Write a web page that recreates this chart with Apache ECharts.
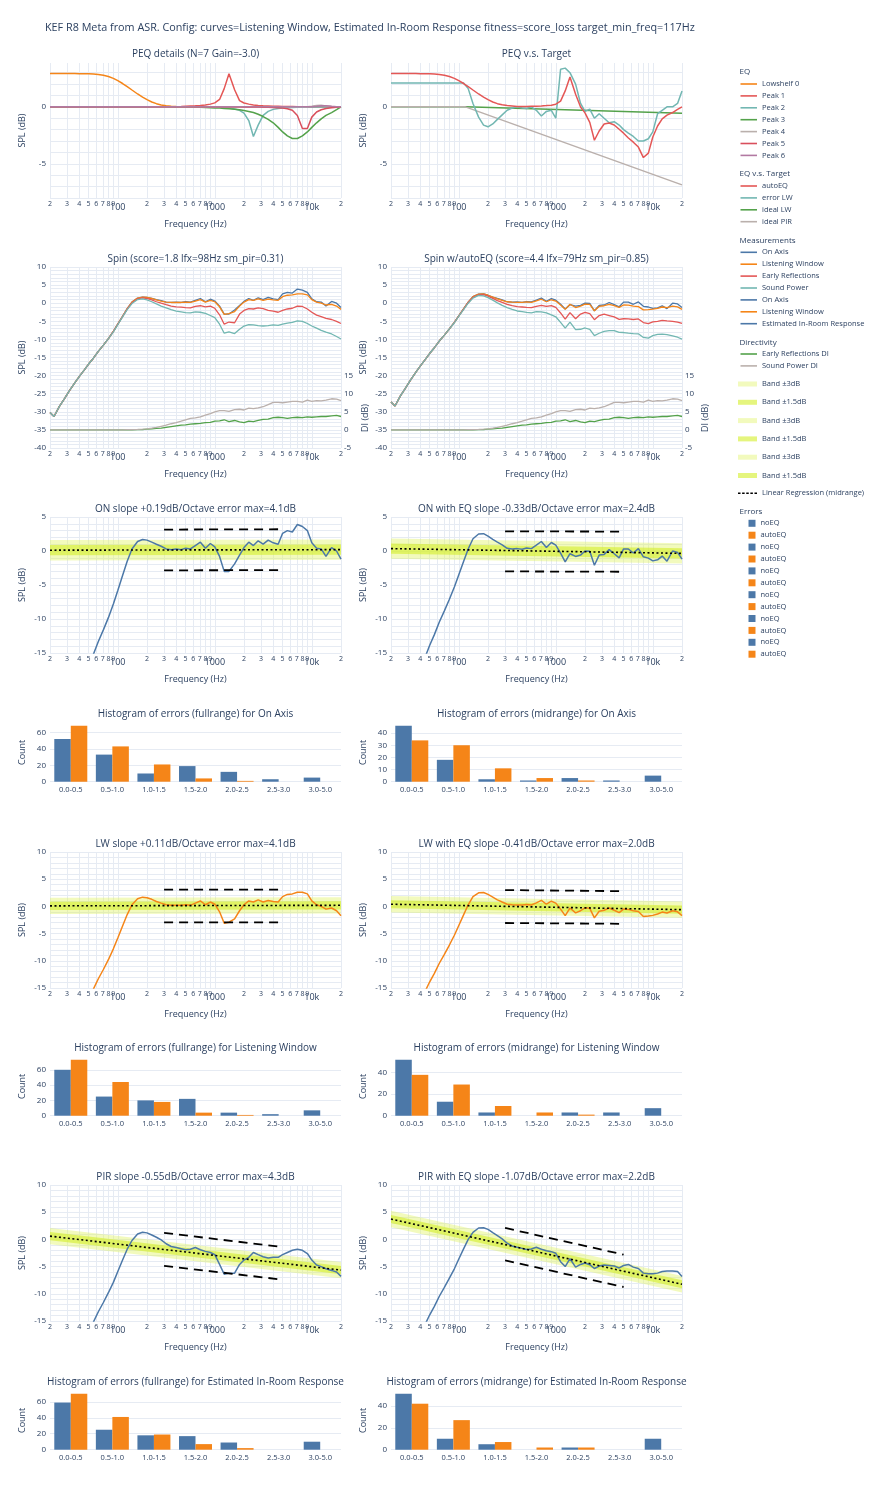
<!DOCTYPE html>
<html><head><meta charset="utf-8">
<script src="https://cdn.jsdelivr.net/npm/echarts@6/dist/echarts.min.js"></script>
<style>html,body{margin:0;padding:0;background:#fff}#c{width:875px;height:1500px}</style>
</head><body><div id="c"></div>
<script>
// ---------------- DATA ----------------
const FREQ = [20,22,25,28,32,36,40,45,50,56, 63,71,80,90,100,112,125,140,160,180, 200,224,250,280,315,355,400,450,500,560, 630,710,800,900,1000,1120,1250,1400,1600,1800, 2000,2240,2500,2800,3150,3550,4000,4500,5000,5600, 6300,7100,8000,9000,10000,11200,12500,14000,16000,18000, 20000];
const freqTicks = [20,30,40,50,60,70,80,90,100,200,300,400,500,600,700,800,900,1000,2000,3000,4000,5000,6000,7000,8000,9000,10000,20000];

const peqLowshelf0 = [2.92,2.92,2.92,2.92,2.92,2.92,2.91,2.9,2.9,2.88, 2.85,2.78,2.66,2.5,2.3,2.05,1.78,1.48,1.13,0.85, 0.63,0.43,0.28,0.17,0.1,0.06,0.03,0.02,0.01,0, 0,0,0,0,0,0,0,0,0,0, 0,0,0,0,0,0,0,0,0,0, 0,0,0,0,0,0,0,0,0,0, 0];
const peqPeak1 = [0,0,0,0,0,0,0,0,0,0, 0,0,0,0,0,0,0,0,0,0, 0,0,0,0.01,0.01,0.02,0.02,0.03,0.05,0.07, 0.09,0.12,0.17,0.24,0.35,0.65,1.6,2.9,1.5,0.55, 0.34,0.24,0.17,0.13,0.1,0.08,0.06,0.05,0.04,0.03, 0.03,0.02,0.02,0.02,0.01,0.01,0.01,0.01,0,0, 0];
const peqPeak2 = [0,0,0,0,0,0,0,0,0,0, 0,0,0,0,0,0,0,0,0,0, 0,0,0,0,0,0,0,0,0,0, 0,0,-0.01,-0.02,-0.03,-0.04,-0.06,-0.1,-0.18,-0.3, -0.55,-1.2,-2.6,-1.6,-0.75,-0.4,-0.22,-0.14,-0.1,-0.07, -0.05,-0.04,-0.03,-0.02,-0.02,-0.01,-0.01,-0.01,0,0, 0];
const peqPeak3 = [0,0,0,0,0,0,0,0,0,0, 0,0,0,0,0,0,0,0,0,0, 0,0,0,0,0,0,-0.01,-0.01,-0.02,-0.02, -0.03,-0.04,-0.05,-0.07,-0.09,-0.11,-0.14,-0.17,-0.21,-0.26, -0.32,-0.4,-0.5,-0.65,-0.85,-1.1,-1.4,-1.8,-2.2,-2.55, -2.78,-2.78,-2.55,-2.2,-1.8,-1.4,-1.05,-0.75,-0.5,-0.25, 0];
const peqPeak4 = [0,0,0,0,0,0,0,0,0,0, 0,0,0,0,0,0,0,0,0,0, 0,0,0,0,0,0,0,0,0,0, 0,0,0,0,0,0,0,0,0,0, 0,0,0,0,0,0,0,0,0,0, 0,0,0.01,0.02,0.05,0.12,0.15,0.08,0.03,0.01, 0];
const peqPeak5 = [0,0,0,0,0,0,0,0,0,0, 0,0,0,0,0,0,0,0,0,0, 0,0,0,0,0,0,0,0,0,0, 0,0,0,0,0,0,0,0,0,0, -0.01,-0.01,-0.02,-0.02,-0.03,-0.04,-0.05,-0.07,-0.1,-0.17, -0.3,-0.75,-1.9,-1.9,-0.9,-0.45,-0.25,-0.15,-0.08,-0.03, 0];
const peqPeak6 = [0,0,0,0,0,0,0,0,0,0, 0,0,0,0,0,0,0,0,0,0, 0,0,0,0,0,0,0,0,0,0, 0,0,0,0,0,0,0,0,0,0, 0,0,0,0,0,0,0,0,0,0, 0,0,0,0.01,0.02,0.05,0.1,0.1,0.05,0.02, 0];

const autoEQ = [2.92,2.92,2.92,2.92,2.92,2.92,2.91,2.9,2.9,2.88, 2.85,2.78,2.66,2.5,2.3,2.05,1.78,1.48,1.13,0.85, 0.63,0.43,0.28,0.18,0.11,0.08,0.04,0.04,0.04,0.06, 0.06,0.08,0.11,0.15,0.23,0.5,1.4,2.63,1.11,-0.01, -0.53,-1.36,-2.93,-2.12,-1.5,-1.42,-1.59,-1.97,-2.31,-2.73, -3.1,-3.53,-4.45,-4.06,-2.64,-1.68,-1.05,-0.72,-0.5,-0.22, 0];
const errorLW = [2.1,2.1,2.1,2.1,2.1,2.1,2.1,2.1,2.1,2.1, 2.1,2.1,2.1,2.1,2.1,2.1,1.6,0.3,-0.9,-1.6, -1.75,-1.5,-1.1,-0.7,-0.3,-0.1,0.0,-0.1,-0.15,0.0, -0.3,-0.8,-0.4,-0.3,-1.0,3.3,3.4,3.0,2.0,0.3, -0.4,-0.2,-1.0,-0.6,-1.0,-1.4,-1.3,-1.6,-2.0,-2.3, -2.6,-3.0,-3.0,-2.8,-2.2,-0.6,-0.3,0.0,0.0,0.3, 1.4];
const idealFreq = [20, 117, 20000];
const idealLW = [0, 0, -0.55];
const idealPIR = [0, 0, -6.85];

const onAxis = [-30.2,-31.3,-28.5,-26.5,-24,-22,-20.3,-18.5,-16.8,-15.2, -13.3,-11.6,-9.8,-7.8,-5.8,-3.6,-1.5,0.3,1.4,1.7, 1.6,1.3,1.0,0.7,0.3,0.2,0.3,0.2,0.4,0.3, 0.8,1.3,0.4,1.1,0.6,-0.8,-3.0,-3.0,-1.9,-0.6, 0.5,1.3,0.8,1.5,1.0,1.6,1.2,1.0,2.6,3.0, 2.8,3.9,3.6,3.0,1.2,0.4,0.3,-0.8,0.5,0.0, -1.2];
const listeningWindow = [-30.2,-31.3,-28.5,-26.5,-24,-22,-20.3,-18.5,-16.8,-15.2, -13.3,-11.6,-9.8,-7.8,-5.8,-3.6,-1.5,0.3,1.4,1.7, 1.6,1.3,0.9,0.6,0.3,0.2,0.2,0.2,0.3,0.2, 0.6,1.0,0.3,0.8,0.4,-1.0,-3.1,-2.9,-2.3,-0.8, 0.3,1.0,0.8,1.2,0.8,1.1,0.9,0.8,1.8,2.2, 2.3,2.6,2.6,2.3,1.0,0.3,0.0,-0.5,-0.3,-0.8, -1.7];
const earlyReflections = [-30.2,-31.3,-28.5,-26.5,-24,-22,-20.3,-18.5,-16.8,-15.2, -13.3,-11.6,-9.8,-7.8,-5.8,-3.7,-1.6,0.1,1.2,1.5, 1.3,0.9,0.4,0.0,-0.4,-0.8,-1.0,-1.1,-1.2,-1.3, -0.9,-0.7,-1.0,-0.8,-1.4,-3.2,-5.8,-5.2,-5.4,-3.0, -2.0,-1.5,-1.6,-1.3,-1.5,-2.0,-2.2,-2.5,-2.0,-1.6, -1.4,-0.8,-0.9,-1.6,-2.5,-3.3,-3.7,-4.2,-4.5,-5.0, -5.6];
const soundPower = [-30.2,-31.3,-28.5,-26.5,-24,-22,-20.3,-18.5,-16.8,-15.2, -13.3,-11.6,-9.8,-7.9,-5.9,-3.8,-1.8,-0.1,1.0,1.2, 0.9,0.4,-0.2,-0.8,-1.3,-1.8,-2.2,-2.4,-2.6,-2.7, -2.4,-2.5,-2.8,-3.4,-4.0,-5.8,-8.3,-7.9,-8.4,-7.2, -6.3,-5.9,-6.0,-6.2,-6.3,-6.2,-6.0,-6.1,-5.8,-5.5, -5.3,-4.9,-5.0,-5.6,-6.3,-6.9,-7.5,-8.0,-8.5,-9.2, -9.9];
const erDI = [0,0,0,0,0,0,0,0,0,0, 0,0,0,0,0,0,0,0,0.05,0.1, 0.2,0.3,0.4,0.5,0.7,0.9,1.1,1.3,1.4,1.6, 1.7,1.8,2.0,2.1,2.4,2.5,2.8,2.3,2.6,2.2, 2.0,2.4,2.3,2.6,2.9,3.0,3.4,3.5,3.4,3.2, 3.4,3.5,3.4,3.6,3.5,3.6,3.7,3.7,3.9,4.0, 3.7];
const spDI = [0,0,0,0,0,0,0,0,0,0, 0,0,0,0,0,0,0.05,0.1,0.15,0.2, 0.3,0.5,0.7,1.0,1.3,1.7,2.0,2.4,2.8,3.2, 3.3,3.6,4.1,4.5,5.0,5.3,5.3,5.1,5.6,5.7, 5.5,6.0,5.9,6.1,6.4,7.0,7.6,7.6,7.5,7.7, 7.9,7.9,7.7,8.2,7.9,8.1,8.0,8.2,8.6,8.5, 8.1];

const onAxisEq = [-27.3,-28.4,-25.6,-23.6,-21.1,-19.1,-17.4,-15.6,-13.9,-12.3, -10.45,-8.8,-7.1,-5.3,-3.5,-1.55,0.3,1.8,2.5,2.55, 2.2,1.7,1.3,0.9,0.4,0.3,0.35,0.25,0.45,0.35, 0.85,1.4,0.5,1.25,0.85,-0.3,-1.6,-0.4,-0.8,-0.6, 0.0,-0.05,-2.1,-0.6,-0.5,0.2,-0.4,-1.0,0.3,0.3, -0.3,0.35,-0.85,-1.05,-1.45,-1.3,-0.75,-1.5,0.0,-0.2, -1.2];
const listeningWindowEq = [-27.3,-28.4,-25.6,-23.6,-21.1,-19.1,-17.4,-15.6,-13.9,-12.3, -10.45,-8.8,-7.1,-5.3,-3.5,-1.55,0.3,1.8,2.5,2.55, 2.2,1.7,1.2,0.8,0.4,0.3,0.25,0.25,0.35,0.25, 0.65,1.1,0.4,0.95,0.6,-0.5,-1.7,-0.3,-1.2,-0.8, -0.25,-0.35,-2.1,-0.9,-0.7,-0.3,-0.7,-1.15,-0.5,-0.55, -0.8,-0.95,-1.85,-1.75,-1.65,-1.4,-1.05,-1.2,-0.8,-1.0, -1.7];
const earlyReflectionsEq = [-27.3,-28.4,-25.6,-23.6,-21.1,-19.1,-17.4,-15.6,-13.9,-12.3, -10.45,-8.8,-7.1,-5.3,-3.5,-1.65,0.2,1.6,2.3,2.35, 1.95,1.35,0.7,0.2,-0.3,-0.7,-0.95,-1.05,-1.15,-1.25, -0.85,-0.6,-0.9,-0.65,-1.15,-2.7,-4.4,-2.6,-4.3,-3.0, -2.55,-2.85,-4.55,-3.4,-3.0,-3.4,-3.8,-4.45,-4.3,-4.35, -4.5,-4.35,-5.35,-5.65,-5.15,-5.0,-4.75,-4.9,-5.0,-5.2, -5.6];
const soundPowerEq = [-27.3,-28.4,-25.6,-23.6,-21.1,-19.1,-17.4,-15.6,-13.9,-12.3, -10.45,-8.8,-7.1,-5.4,-3.6,-1.75,0.0,1.4,2.15,2.05, 1.55,0.85,0.1,-0.6,-1.2,-1.7,-2.15,-2.35,-2.55,-2.65, -2.35,-2.4,-2.7,-3.25,-3.75,-5.3,-6.9,-5.25,-7.3,-7.2, -6.85,-7.25,-8.95,-8.3,-7.8,-7.6,-7.6,-8.05,-8.1,-8.25, -8.4,-8.45,-9.45,-9.65,-8.95,-8.6,-8.55,-8.7,-9.0,-9.4, -9.9];

const pir = [-30.2,-31.3,-28.5,-26.5,-24,-22,-20.3,-18.5,-16.8,-15.2, -13.3,-11.6,-9.8,-7.9,-5.9,-3.8,-1.8,-0.2,1.0,1.3, 1.2,0.8,0.4,-0.1,-0.8,-1.3,-1.5,-1.7,-1.9,-1.8, -1.5,-1.9,-2.2,-2.4,-2.8,-4.6,-6.4,-6.2,-6.2,-4.6, -3.8,-3.3,-2.4,-2.8,-3.2,-3.4,-3.3,-3.3,-2.8,-2.4, -2.0,-1.8,-2.0,-2.6,-3.8,-4.7,-5.0,-5.4,-5.7,-6.0, -6.8];
const pirEq = [-27.3,-28.4,-25.6,-23.6,-21.1,-19.1,-17.4,-15.6,-13.9,-12.3, -10.45,-8.8,-7.1,-5.4,-3.6,-1.75,0.0,1.3,2.1,2.15, 1.85,1.25,0.7,0.1,-0.7,-1.2,-1.45,-1.65,-1.85,-1.75, -1.45,-1.8,-2.1,-2.25,-2.55,-4.1,-5.0,-3.55,-5.1,-4.6, -4.35,-4.65,-5.35,-4.9,-4.7,-4.8,-4.9,-5.25,-4.8,-4.6, -5.1,-5.35,-6.2,-6.3,-6.3,-6.2,-5.9,-5.8,-5.8,-5.9, -6.8];

// regression lines (endpoints at 20 Hz and 20 kHz) and midrange bounds (300 Hz - 5 kHz)
const regFreq = [20, 20000];
const regOn = [0.12, 0.2], regOnEq = [0.35, -0.35];
const regLw = [0.1, 0.2], regLwEq = [0.4, -0.6];
const regPir = [0.6, -5.65], regPirEq = [3.75, -8.25];
const boundFreq = [300, 5000];
const onUpper = [3.15, 3.2], onLower = [-2.85, -2.8];
const onEqUpper = [2.9, 2.85], onEqLower = [-3.0, -3.05];
const lwUpper = [3.1, 3.1], lwLower = [-2.95, -2.95];
const lwEqUpper = [3.0, 2.8], lwEqLower = [-3.05, -3.2];
const pirUpper = [1.2, -1.4], pirLower = [-4.85, -7.4];
const pirEqUpper = [2.1, -2.8], pirEqLower = [-3.85, -8.75];
const bandHalf = [1.5, 0.75];

// histograms
const histBins = ['0.0-0.5','0.5-1.0','1.0-1.5','1.5-2.0','2.0-2.5','2.5-3.0','3.0-5.0'];
const onFullNo = [52,33,10,19,12,3,5], onFullAuto = [68,43,21,4,1,0,0];
const onMidNo = [46,18,2,1,3,1,5], onMidAuto = [34,30,11,3,1,0,0];
const lwFullNo = [60,25,20,22,4,2,7], lwFullAuto = [73,44,18,4,1,0,0];
const lwMidNo = [52,13,3,0,3,3,7], lwMidAuto = [38,29,9,3,1,0,0];
const pirFullNo = [59,25,18,17,9,0,10], pirFullAuto = [70,41,19,7,2,0,0];
const pirMidNo = [51,10,5,0,2,0,10], pirMidAuto = [42,27,7,2,2,0,0];

// axis tick labels
const peqYTicks = [-5, 0];
const spinYTicks = [-40,-35,-30,-25,-20,-15,-10,-5,0,5,10];
const diTicks = [-5,0,5,10,15];
const slopeYTicks5 = [-15,-10,-5,0,5];
const slopeYTicks10 = [-15,-10,-5,0,5,10];
const histTicks20 = [0,20,40,60], histTicks10 = [0,10,20,30,40], histTicks20b = [0,20,40];

// ---------------- STYLE ----------------
const FONT = '"Open Sans", sans-serif';
const TXT = '#2a3f5f';
const GRIDC = '#e6ebf3';
const C = {blue:'#4C78A8', orange:'#F58518', red:'#E45756', teal:'#72B7B2', green:'#54A24B', gray:'#BAB0AC', purple:'#B279A2', pink:'#FF9DA6'};
const BAND_OUT = 'rgba(222,242,90,0.4)';
const BAND_IN = 'rgba(212,238,40,0.6)';

const COLX = [50, 391], W = 291;
const grids = [], xAxes = [], yAxes = [], series = [], titles = [], graphics = [];
const rng = (a, b) => { const r = []; for (let v = Math.ceil(a); v <= b; v++) r.push(v); return r; };
const zw = n => '\u200b'.repeat(n);

function addGrid(col, top, height) {
  grids.push({left: COLX[col], top, width: W, height, containLabel: false, outerBoundsMode: 'none'});
  return grids.length - 1;
}
function fmtFreq(v) {
  const r = Math.round(v);
  if (r === 100 || r === 1000) return '{b|' + r + '}';
  if (r === 10000) return '{b|10k}';
  const d = Math.round(r / Math.pow(10, Math.floor(Math.log10(r) + 1e-9)));
  return '{s|' + d + '}';
}
function addFreqX(g) {
  xAxes.push({type: 'log', logBase: 10, gridIndex: g, min: 20, max: 20000,
    axisLine: {show: false}, axisTick: {show: false, customValues: freqTicks},
    axisLabel: {customValues: freqTicks, formatter: fmtFreq, margin: 2.5, showMinLabel: true, showMaxLabel: true, hideOverlap: false,
      rich: {s: {fontSize: 7, color: TXT, fontFamily: FONT}, b: {fontSize: 9, color: TXT, fontFamily: FONT, padding: [2, 0, 0, 0]}}},
    splitLine: {show: true, lineStyle: {color: GRIDC, width: 1}},
    name: 'Frequency (Hz)', nameLocation: 'middle', nameGap: 22,
    nameTextStyle: {fontSize: 9, color: TXT, fontFamily: FONT}});
  return xAxes.length - 1;
}
function addY(g, min, max, labels, lines, name, extra) {
  yAxes.push(Object.assign({type: 'value', gridIndex: g, min, max,
    axisLine: {show: false}, axisTick: {show: false, customValues: lines},
    axisLabel: {customValues: labels, fontSize: 8, color: TXT, fontFamily: FONT, margin: 4, showMinLabel: true, showMaxLabel: true},
    splitLine: {show: true, lineStyle: {color: GRIDC, width: 1}},
    name, nameLocation: 'middle', nameGap: 23,
    nameTextStyle: {fontSize: 9, color: TXT, fontFamily: FONT}}, extra || {}));
  return yAxes.length - 1;
}
function line(name, xi, yi, xs, ys, color, width, extra) {
  return Object.assign({type: 'line', name, xAxisIndex: xi, yAxisIndex: yi,
    data: xs.map((x, i) => [x, ys[i]]), symbol: 'none', showSymbol: false, animation: false, silent: true,
    lineStyle: {color, width}, itemStyle: {color}, emphasis: {disabled: true}}, extra || {});
}
function band(name, xi, yi, xs, center, hw, color) {
  return {type: 'custom', name, xAxisIndex: xi, yAxisIndex: yi, animation: false, silent: true, clip: true,
    itemStyle: {color},
    data: xs.map((x, i) => [x, center[i] - hw, center[i] + hw]),
    encode: {x: 0, y: [1, 2]},
    renderItem: (params, api) => {
      if (params.dataIndex !== 0) return;
      const up = [], lo = [];
      for (let i = 0; i < xs.length; i++) {
        up.push(api.coord([xs[i], center[i] + hw]));
        lo.unshift(api.coord([xs[i], center[i] - hw]));
      }
      return {type: 'polygon', shape: {points: up.concat(lo)}, style: {fill: color}};
    }};
}
function title(text, cx, cy, size) {
  titles.push({text, left: cx, top: cy, textAlign: 'center', textVerticalAlign: 'middle', padding: 0,
    textStyle: {fontSize: size || 10, fontWeight: 'normal', color: TXT, fontFamily: FONT}});
}
const CX = [50 + W / 2, 391 + W / 2];

// ---------------- PANELS ----------------
// Row 1: PEQ
title('PEQ details (N=7 Gain=-3.0)', CX[0], 54.5);
let g = addGrid(0, 63, 135), xi = addFreqX(g), yi = addY(g, -8, 3.85, peqYTicks, rng(-8, 3.85), 'SPL (dB)');
series.push(line('Lowshelf 0', xi, yi, FREQ, peqLowshelf0, C.orange, 1.5));
series.push(line('Peak 1', xi, yi, FREQ, peqPeak1, C.red, 1.5));
series.push(line('Peak 2', xi, yi, FREQ, peqPeak2, C.teal, 1.5));
series.push(line('Peak 3', xi, yi, FREQ, peqPeak3, C.green, 1.5));
series.push(line('Peak 4', xi, yi, FREQ, peqPeak4, C.gray, 1.5));
series.push(line('Peak 5', xi, yi, FREQ, peqPeak5, '#D94F5C', 1.5));
series.push(line('Peak 6', xi, yi, FREQ, peqPeak6, C.purple, 1.5));

title('PEQ v.s. Target', CX[1], 54.5);
g = addGrid(1, 63, 135); xi = addFreqX(g); yi = addY(g, -8, 3.85, peqYTicks, rng(-8, 3.85), 'SPL (dB)');
series.push(line('ideal LW', xi, yi, idealFreq, idealLW, C.green, 1.5));
series.push(line('ideal PIR', xi, yi, idealFreq, idealPIR, C.gray, 1.5));
series.push(line('error LW', xi, yi, FREQ, errorLW, C.teal, 1.5));
series.push(line('autoEQ', xi, yi, FREQ, autoEQ, C.red, 1.5));

// Row 2: Spin
function spinPanel(col, ttl, on, lw, er, sp) {
  title(ttl, CX[col], 259.5);
  const gg = addGrid(col, 267, 181), x = addFreqX(gg);
  const y = addY(gg, -40, 10, spinYTicks, rng(-40, 10), 'SPL (dB)');
  const y2 = addY(gg, -5, 45, diTicks, diTicks, '', {position: 'right', splitLine: {show: false},
    axisLabel: {customValues: diTicks, fontSize: 8, color: TXT, fontFamily: FONT, margin: 3, showMinLabel: true, showMaxLabel: true}});
  series.push(line('On Axis', x, y, FREQ, on, C.blue, 1.3));
  series.push(line('Listening Window', x, y, FREQ, lw, C.orange, 1.3));
  series.push(line('Early Reflections', x, y, FREQ, er, C.red, 1.3));
  series.push(line('Sound Power', x, y, FREQ, sp, C.teal, 1.3));
  series.push(line('Early Reflections DI', x, y2, FREQ, erDI, C.green, 1.3));
  series.push(line('Sound Power DI', x, y2, FREQ, spDI, C.gray, 1.3));
  graphics.push({type: 'text', x: col === 0 ? 365 : 705, y: 418, rotation: Math.PI / 2,
    style: {text: 'DI (dB)', fill: TXT, fontSize: 9, fontFamily: FONT, align: 'center', verticalAlign: 'middle'}});
}
spinPanel(0, 'Spin (score=1.8 lfx=98Hz sm_pir=0.31)', onAxis, listeningWindow, earlyReflections, soundPower);
spinPanel(1, 'Spin w/autoEQ (score=4.4 lfx=79Hz sm_pir=0.85)', onAxisEq, listeningWindowEq, earlyReflectionsEq, soundPowerEq);

// slope panels
function slopePanel(col, top, ttl, ymax, yTicks, curveName, curve, color, reg, up, lo, bandSuffix) {
  title(ttl, CX[col], top - 8);
  const gg = addGrid(col, top, 136), x = addFreqX(gg);
  const y = addY(gg, -15, ymax, yTicks, rng(-15, ymax), 'SPL (dB)');
  series.push(band('Band ±3dB' + bandSuffix, x, y, regFreq, reg, bandHalf[0], BAND_OUT));
  series.push(band('Band ±1.5dB' + bandSuffix, x, y, regFreq, reg, bandHalf[1], BAND_IN));
  series.push(line(curveName, x, y, FREQ, curve, color, 1.5));
  series.push(line('Linear Regression (midrange)', x, y, regFreq, reg, '#000', 1.6, {lineStyle: {color: '#000', width: 1.6, type: [2, 2.5]}}));
  series.push(line('bounds', x, y, boundFreq, up, '#000', 1.8, {lineStyle: {color: '#000', width: 1.8, type: [9, 6]}}));
  series.push(line('bounds', x, y, boundFreq, lo, '#000', 1.8, {lineStyle: {color: '#000', width: 1.8, type: [9, 6]}}));
}
function histPanel(col, top, ttl, max, ticks, k, noVals, autoVals) {
  title(ttl, CX[col], top - 9);
  const gg = addGrid(col, top, 58.7);
  xAxes.push({type: 'category', gridIndex: gg, data: histBins, axisLine: {show: false}, axisTick: {show: false},
    axisLabel: {fontSize: 7.5, color: TXT, fontFamily: FONT, margin: 4, interval: 0}, splitLine: {show: false}});
  const x = xAxes.length - 1;
  const y = addY(gg, 0, max, ticks, ticks, 'Count');
  series.push({type: 'bar', name: 'noEQ' + zw(k), xAxisIndex: x, yAxisIndex: y, data: noVals, barWidth: 16.5, barGap: '0%',
    itemStyle: {color: C.blue}, silent: true, animation: false});
  series.push({type: 'bar', name: 'autoEQ' + zw(k + 1), xAxisIndex: x, yAxisIndex: y, data: autoVals, barWidth: 16.5, barGap: '0%',
    itemStyle: {color: C.orange}, silent: true, animation: false});
}

slopePanel(0, 517, 'ON slope +0.19dB/Octave error max=4.1dB', 5, slopeYTicks5, 'On Axis' + zw(1), onAxis, C.blue, regOn, onUpper, onLower, '');
slopePanel(1, 517, 'ON with EQ slope -0.33dB/Octave error max=2.4dB', 5, slopeYTicks5, 'On Axis' + zw(1), onAxisEq, C.blue, regOnEq, onEqUpper, onEqLower, '');
histPanel(0, 723, 'Histogram of errors (fullrange) for On Axis', 71.5, histTicks20, 0, onFullNo, onFullAuto);
histPanel(1, 723, 'Histogram of errors (midrange) for On Axis', 48.3, histTicks10, 1, onMidNo, onMidAuto);

slopePanel(0, 852, 'LW slope +0.11dB/Octave error max=4.1dB', 10, slopeYTicks10, 'Listening Window' + zw(1), listeningWindow, C.orange, regLw, lwUpper, lwLower, zw(1));
slopePanel(1, 852, 'LW with EQ slope -0.41dB/Octave error max=2.0dB', 10, slopeYTicks10, 'Listening Window' + zw(1), listeningWindowEq, C.orange, regLwEq, lwEqUpper, lwEqLower, zw(1));
histPanel(0, 1057, 'Histogram of errors (fullrange) for Listening Window', 76.7, histTicks20, 2, lwFullNo, lwFullAuto);
histPanel(1, 1057, 'Histogram of errors (midrange) for Listening Window', 54.6, histTicks20b, 3, lwMidNo, lwMidAuto);

slopePanel(0, 1185, 'PIR slope -0.55dB/Octave error max=4.3dB', 10, slopeYTicks10, 'Estimated In-Room Response', pir, C.blue, regPir, pirUpper, pirLower, zw(2));
slopePanel(1, 1185, 'PIR with EQ slope -1.07dB/Octave error max=2.2dB', 10, slopeYTicks10, 'Estimated In-Room Response', pirEq, C.blue, regPirEq, pirEqUpper, pirEqLower, zw(2));
histPanel(0, 1391, 'Histogram of errors (fullrange) for Estimated In-Room Response', 73.5, histTicks20, 4, pirFullNo, pirFullAuto);
histPanel(1, 1391, 'Histogram of errors (midrange) for Estimated In-Room Response', 53.6, histTicks20b, 5, pirMidNo, pirMidAuto);

// main title
titles.unshift({text: 'KEF R8 Meta from ASR. Config: curves=Listening Window, Estimated In-Room Response fitness=score_loss target_min_freq=117Hz',
  left: 45, top: 28, textAlign: 'left', textVerticalAlign: 'middle', padding: 0,
  textStyle: {fontSize: 10.8, fontWeight: 'normal', color: TXT, fontFamily: FONT}});

// ---------------- LEGEND ----------------
const LTXT = {fontSize: 7.5, color: TXT, fontFamily: FONT, lineHeight: 10};
const strip = n => n.replace(/\u200b/g, '');
const lgBase = {orient: 'vertical', padding: 0, left: 740.5, itemGap: 1.9, itemWidth: 16.5, itemHeight: 1.6, icon: 'rect',
  textStyle: LTXT, formatter: strip, selectedMode: false, symbolKeepAspect: false};
const bandItem = (n, c) => ({name: n, icon: 'rect', itemStyle: {color: c}});
const DOTS = 'path://M0,0h2.5v1.5h-2.5zM4.1,0h2.5v1.5h-2.5zM8.2,0h2.5v1.5h-2.5zM12.3,0h2.5v1.5h-2.5zM16.4,0h2.5v1.5h-2.5z';
const legends = [
  Object.assign({}, lgBase, {top: 79, data: ['Lowshelf 0','Peak 1','Peak 2','Peak 3','Peak 4','Peak 5','Peak 6']}),
  Object.assign({}, lgBase, {top: 181, data: ['autoEQ','error LW','ideal LW','ideal PIR']}),
  Object.assign({}, lgBase, {top: 247.3, data: ['On Axis','Listening Window','Early Reflections','Sound Power','On Axis' + zw(1),'Listening Window' + zw(1),'Estimated In-Room Response']}),
  Object.assign({}, lgBase, {top: 349, data: ['Early Reflections DI','Sound Power DI']}),
  Object.assign({}, lgBase, {top: 379, itemGap: 8.3, itemWidth: 19, itemHeight: 5, left: 738,
    data: [bandItem('Band ±3dB', BAND_OUT), bandItem('Band ±1.5dB', BAND_IN), bandItem('Band ±3dB' + zw(1), BAND_OUT), bandItem('Band ±1.5dB' + zw(1), BAND_IN), bandItem('Band ±3dB' + zw(2), BAND_OUT), bandItem('Band ±1.5dB' + zw(2), BAND_IN)]}),
  Object.assign({}, lgBase, {top: 488.3, left: 738, itemWidth: 19, itemHeight: 1.5, icon: DOTS, data: ['Linear Regression (midrange)']}),
  Object.assign({}, lgBase, {top: 518.3, left: 748.5, itemWidth: 7, itemHeight: 7, icon: 'rect',
    data: [0,1,2,3,4,5].flatMap(k => ['noEQ' + zw(k), 'autoEQ' + zw(k + 1)])})
];
[['EQ', 71.7], ['EQ v.s. Target', 174], ['Measurements', 240.7], ['Directivity', 342.3], ['Errors', 511.7]].forEach(([t, y]) => {
  graphics.push({type: 'text', x: 739.5, y, style: {text: t, fill: TXT, fontSize: 8, fontFamily: FONT, align: 'left', verticalAlign: 'middle'}});
});

const chart = echarts.init(document.getElementById('c'), null, {renderer: 'canvas', width: 875, height: 1500});
chart.setOption({
  backgroundColor: '#fff', animation: false,
  title: titles, grid: grids, xAxis: xAxes, yAxis: yAxes, series, legend: legends, graphic: graphics,
  tooltip: {show: false}
});
</script></body></html>
